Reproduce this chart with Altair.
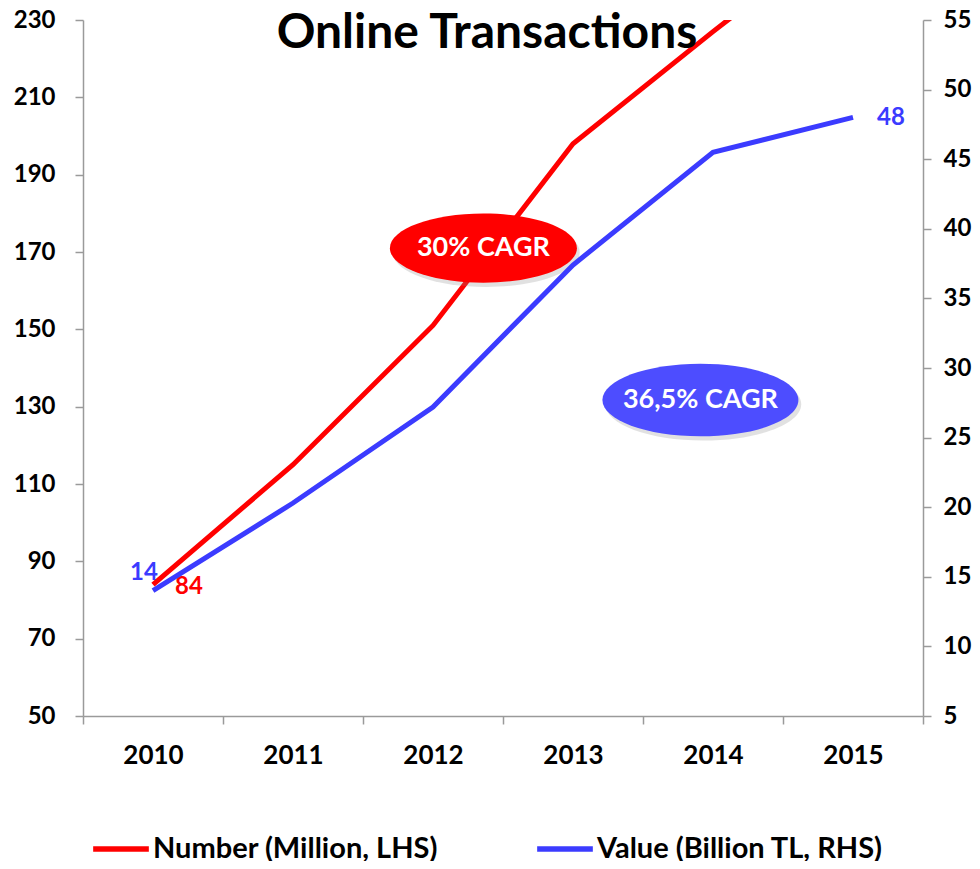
import altair as alt
import pandas as pd

years = [2010, 2011, 2012, 2013, 2014, 2015]
number_million = [84, 115, 151, 198, 227, 255]
value_billion = [14, 20.3, 27.2, 37.4, 45.5, 48]
series_names = ["Number (Million, LHS)", "Value (Billion TL, RHS)"]
series_colors = ["#FF0000", "#3B3BFF"]
left_ticks = list(range(50, 231, 20))
right_ticks = list(range(5, 56, 5))
x_boundaries = [2009.5 + i for i in range(7)]

FONT = "Lato"
AXIS_GREY = "#9A9A9A"

df_num = pd.DataFrame({"year": years, "y": number_million, "series": series_names[0]})
df_val = pd.DataFrame({"year": years, "y": value_billion, "series": series_names[1]})

x_scale = alt.Scale(domain=[2009.5, 2015.5], nice=False, zero=False)
x_axis = alt.Axis(
    values=x_boundaries,
    labelExpr="datum.value < 2015 ? toString(datum.value + 0.5) : ''",
    labelOffset=70, labelOverlap=False, labelFlush=False, labelBound=False,
    tickSize=8, tickColor=AXIS_GREY, domainColor=AXIS_GREY, domainWidth=1.5, tickWidth=1.5,
    labelFont=FONT, labelFontSize=26, labelFontWeight="bold", labelColor="black",
    labelPadding=18, grid=False, title=None,
)
yl_scale = alt.Scale(domain=[50, 230], nice=False, zero=False)
yl_axis = alt.Axis(
    values=left_ticks, orient="left", tickSize=8, tickColor=AXIS_GREY, domainColor=AXIS_GREY,
    domainWidth=1.5, tickWidth=1.5, labelFont=FONT, labelFontSize=24, labelFontWeight="bold",
    labelColor="black", labelPadding=20, grid=False, title=None, labelFlush=False,
)
yr_scale = alt.Scale(domain=[5, 55], nice=False, zero=False)
yr_axis = alt.Axis(
    values=right_ticks, orient="right", tickSize=8, tickColor=AXIS_GREY, domainColor=AXIS_GREY,
    domainWidth=1.5, tickWidth=1.5, labelFont=FONT, labelFontSize=24, labelFontWeight="bold",
    labelColor="black", labelPadding=12, grid=False, title=None, labelFlush=False,
)
color = alt.Color(
    "series:N",
    scale=alt.Scale(domain=series_names, range=series_colors),
    legend=alt.Legend(
        orient="none", legendX=7, legendY=798, direction="horizontal", columns=2,
        title=None, symbolType="stroke", symbolSize=3100, symbolStrokeWidth=5.5,
        labelFont=FONT, labelFontSize=29, labelFontWeight="bold", labelColor="black",
        labelOffset=1, columnPadding=88, labelLimit=400,
    ),
)

X = alt.X("year:Q", scale=x_scale, axis=x_axis)
YL = alt.Y("y:Q", scale=yl_scale, axis=yl_axis)
YR = alt.Y("y:Q", scale=yr_scale, axis=yr_axis)

# ---- left (Number) group
red_line = alt.Chart(df_num).mark_line(strokeWidth=5, clip=True).encode(x=X, y=YL, color=color)
red_label = alt.Chart(df_num[df_num.year == 2010]).mark_text(
    font=FONT, fontSize=24, fontWeight="bold", color="#FF0000", dx=36, dy=2, baseline="middle"
).encode(x=X, y=YL, text=alt.Text("y:Q", format="d"))

ellipse_path = "M -1 0 A 1 0.37 0 1 0 1 0 A 1 0.37 0 1 0 -1 0 Z"
ann = pd.DataFrame({
    "year": [2012.36, 2013.91],
    "y": [171, 131.7],
    "label": ["30% CAGR", "36,5% CAGR"],
    "fill": ["#FF0000", "#4D4DFF"],
    "size": [187 ** 2, 196 ** 2],
})
shadow = alt.Chart(ann).transform_calculate(xs="datum.year + 0.02", ys="datum.y - 1.1").mark_point(
    shape=ellipse_path, filled=True, opacity=0.25, color="#888888", strokeWidth=0
).encode(
    x=alt.X("xs:Q", scale=x_scale, axis=x_axis),
    y=alt.Y("ys:Q", scale=yl_scale, axis=yl_axis),
    size=alt.Size("size:Q", scale=None, legend=None),
)
ellipses = alt.Chart(ann).mark_point(shape=ellipse_path, filled=True, opacity=1, strokeWidth=0).encode(
    x=X, y=YL,
    size=alt.Size("size:Q", scale=None, legend=None),
    fill=alt.Fill("fill:N", scale=None, legend=None),
)
ell_text = alt.Chart(ann).mark_text(
    font=FONT, fontSize=27, fontWeight="bold", color="white", baseline="middle"
).encode(x=X, y=YL, text="label:N")

title_df = pd.DataFrame({"year": [2012.5], "y": [230], "t": ["Online Transactions"]})
title = alt.Chart(title_df).mark_text(
    font=FONT, fontSize=48, fontWeight="bold", color="black", dx=-16, dy=28, baseline="alphabetic"
).encode(x=X, y=YL, text="t:N")

left = alt.layer(red_line, red_label, shadow, ellipses, ell_text, title)

# ---- right (Value) group
blue_line = alt.Chart(df_val).mark_line(strokeWidth=5).encode(x=X, y=YR, color=color)
blue_first = alt.Chart(df_val[df_val.year == 2010]).mark_text(
    font=FONT, fontSize=24, fontWeight="bold", color="#3B3BFF", dx=-9, dy=-18, baseline="middle"
).encode(x=X, y=YR, text=alt.Text("y:Q", format="d"))
blue_last = alt.Chart(df_val[df_val.year == 2015]).mark_text(
    font=FONT, fontSize=24, fontWeight="bold", color="#3B3BFF", dx=24, dy=1, baseline="middle", align="left"
).encode(x=X, y=YR, text=alt.Text("y:Q", format="d"))

right = alt.layer(blue_line, blue_first, blue_last)

chart = alt.layer(left, right).resolve_scale(y="independent").properties(
    width=840, height=696,
    autosize=alt.AutoSizeParams(type="none"),
    padding={"left": 75, "top": 12, "right": 49, "bottom": 145},
    background="white",
).configure_view(strokeWidth=0).configure_legend(symbolStrokeWidth=5.5)

chart.save("out.html", embed_options={"renderer": "svg", "actions": False})
